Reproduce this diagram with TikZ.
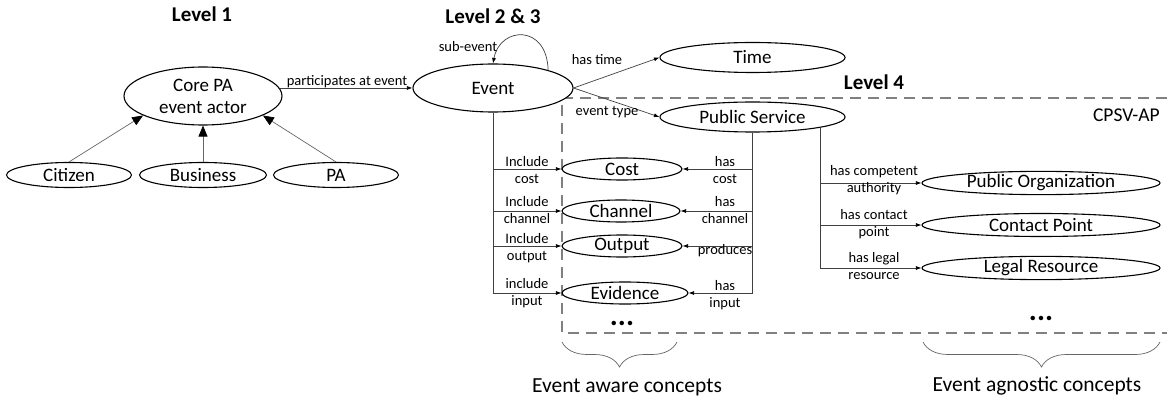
\documentclass[tikz,border=0pt]{standalone}
\usepackage{fontspec}
\setmainfont{Carlito}
\usetikzlibrary{shapes.geometric,arrows.meta,decorations.pathreplacing,calc}
\begin{document}
\begin{tikzpicture}[x=1pt,y=-1pt,
  ell/.style={draw=black, fill=white, line width=1.1pt, ellipse, inner sep=0pt, font=\fontsize{19}{22}\selectfont, align=center},
  conn/.style={draw=black!75, line width=0.7pt},
  sarr/.style={conn, -{Latex[length=5.5pt,width=4pt,color=black]}},
  barr/.style={draw=black!60, line width=0.7pt, -{Triangle[length=11pt,width=9pt,color=black]}},
  lbl/.style={font=\fontsize{14.5}{17}\selectfont, align=center, inner sep=0pt},
  ttl/.style={font=\fontsize{21}{24}\selectfont\bfseries, inner sep=0pt, anchor=base},
  bigl/.style={font=\fontsize{21.5}{25}\selectfont, inner sep=0pt, anchor=base},
  dotsn/.style={font=\fontsize{30}{30}\selectfont\bfseries, inner sep=0pt},
  brc/.style={draw=black!60, line width=0.7pt, decorate, decoration={brace, mirror, amplitude=25pt}},
  dbox/.style={draw=black!50, line width=2.5pt, dash pattern=on 11pt off 7pt}
]
\useasboundingbox (0,0) rectangle (1167,403);

% dashed CPSV-AP region
\draw[dbox] (1167,98) -- (562,98) -- (562,333) -- (1167,333);

% titles
\node[ttl] (t1) at (202,22) {Level 1};
\node[ttl] (t2) at (493,24) {Level 2 \& 3};
\node[ttl] (t4) at (874,90) {Level 4};
\node[font=\fontsize{19.5}{22}\selectfont, inner sep=0pt, anchor=base east] (cpsv) at (1160,122) {CPSV-AP};

% level 1
\node[ell, minimum width=158pt, minimum height=58pt] (core) at (203,96) {Core PA\\event actor};
\node[ell, minimum width=125pt, minimum height=25pt] (cit) at (69,175) {Citizen};
\node[ell, minimum width=127pt, minimum height=25pt] (bus) at (203,175) {Business};
\node[ell, minimum width=125pt, minimum height=25pt] (pa) at (336,175) {PA};

% level 2 & 3
\node[ell, minimum width=160pt, minimum height=48pt] (event) at (493,88) {Event};
\node[ell, minimum width=185pt, minimum height=30pt] (time) at (752.5,57.5) {Time};
\node[ell, minimum width=185pt, minimum height=30pt] (ps) at (752.5,117) {Public Service};

% event aware
\node[ell, minimum width=120pt, minimum height=22pt] (cost) at (622,169) {Cost};
\node[ell, minimum width=118pt, minimum height=22pt] (chan) at (621,211) {Channel};
\node[ell, minimum width=120pt, minimum height=22pt] (out) at (622,246) {Output};
\node[ell, minimum width=126pt, minimum height=22pt] (evid) at (625,293) {Evidence};
\node[dotsn] (d1) at (622,323) {...};

% event agnostic
\node[ell, minimum width=238pt, minimum height=23pt] (porg) at (1041,183) {Public Organization};
\node[ell, minimum width=238pt, minimum height=23pt] (cpt) at (1041,225) {Contact Point};
\node[ell, minimum width=238pt, minimum height=23pt] (legal) at (1041,268) {Legal Resource};
\node[dotsn] (d2) at (1041,318) {...};

% level 1 connectors
\draw[barr] (cit.north) -- (core.198);
\draw[barr] (bus.north) -- (core.south);
\draw[barr] (pa.north) -- (core.-18);
\draw[sarr] (core.6 -| core.east) ++(-3,0) coordinate (cs) -- (cs -| event.west);
\node[lbl, anchor=base] (lpart) at (347,86) {participates at event};

% event connectors
\draw[sarr] (event.18) .. controls (547,24) and (500,26) .. (event.north);
\node[lbl] (lsub) at (468,47) {sub-event};
\draw[sarr] (event.east) -- (time.west);
\node[lbl, anchor=base] (ltime) at (597,65) {has time};
\draw[sarr] (event.east) -- (ps.west);
\node[lbl, anchor=base] (ltype) at (607,116) {event type};

% event -> aware concepts
\draw[conn] (event.south) -- (event.south |- evid.west);
\foreach \n in {cost,chan,out,evid} \draw[sarr] (event.south |- \n.west) -- (\n.west);
\node[lbl] (li1) at (527,170) {Include\\cost};
\node[lbl] (li2) at (527,210) {Include\\channel};
\node[lbl] (li3) at (527,248) {Include\\output};
\node[lbl] (li4) at (527,293) {include\\input};

% public service -> aware concepts
\draw[conn] (ps.south) -- (ps.south |- evid.east);
\foreach \n in {cost,chan,out,evid} \draw[sarr] (ps.south |- \n.east) -- (\n.east);
\node[lbl] (lh1) at (725,170) {has\\cost};
\node[lbl] (lh2) at (725,210) {has\\channel};
\node[lbl, anchor=base] (lh3) at (725,255) {produces};
\node[lbl] (lh4) at (725,295) {has\\input};

% public service -> agnostic concepts
\coordinate (psr) at (ps.-9);
\draw[conn] (psr) -- (psr |- legal.west);
\foreach \n in {porg,cpt,legal} \draw[sarr] (psr |- \n.west) -- (\n.west);
\node[lbl] (lr1) at (874,180) {has competent\\authority};
\node[lbl] (lr2) at (874,224) {has contact\\point};
\node[lbl] (lr3) at (874,266) {has legal\\resource};

% braces
\draw[brc] (562,342) -- (677,342);
\draw[brc] (923,342) -- (1160,342);
\node[bigl] (aware) at (627,392) {Event aware concepts};
\node[bigl] (agn) at (1037,391) {Event agnostic concepts};
\end{tikzpicture}
\end{document}
